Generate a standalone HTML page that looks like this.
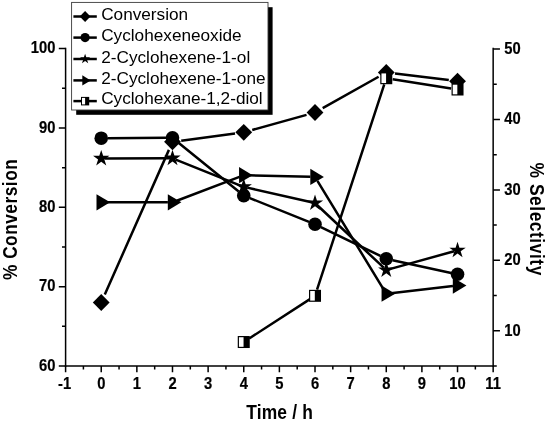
<!DOCTYPE html>
<html><head><meta charset="utf-8"><title>Chart</title>
<style>html,body{margin:0;padding:0;background:#fff}svg{display:block}</style>
</head><body>
<svg width="550" height="426" viewBox="0 0 550 426" style="display:block">
<rect width="550" height="426" fill="#fff"/>
<g stroke="#000" stroke-width="1.5" fill="none" stroke-linecap="butt">
<path d="M65.60 47.85V366.75"/>
<path d="M493.16 47.85V366.75"/>
<path d="M64.85 366.00H493.91"/>
<path d="M65.60 366.00h-6.8M65.60 326.32h-3.6M65.60 286.65h-6.8M65.60 246.97h-3.6M65.60 207.30h-6.8M65.60 167.63h-3.6M65.60 127.95h-6.8M65.60 88.27h-3.6M65.60 48.60h-6.8M493.16 366.00h3.6M493.16 330.78h6.8M493.16 295.56h3.6M493.16 260.33h6.8M493.16 225.11h3.6M493.16 189.89h6.8M493.16 154.67h3.6M493.16 119.44h6.8M493.16 84.22h3.6M493.16 49.00h6.8M65.60 366.00v6.2M83.41 366.00v3.4M101.23 366.00v6.2M119.05 366.00v3.4M136.86 366.00v6.2M154.68 366.00v3.4M172.49 366.00v6.2M190.31 366.00v3.4M208.12 366.00v6.2M225.94 366.00v3.4M243.75 366.00v6.2M261.56 366.00v3.4M279.38 366.00v6.2M297.20 366.00v3.4M315.01 366.00v6.2M332.83 366.00v3.4M350.64 366.00v6.2M368.46 366.00v3.4M386.27 366.00v6.2M404.09 366.00v3.4M421.90 366.00v6.2M439.72 366.00v3.4M457.53 366.00v6.2M475.35 366.00v3.4M493.16 366.00v6.2"/>
</g>
<g font-family="'Liberation Sans', Arial, sans-serif" font-weight="bold" font-size="16.5" fill="#000" stroke="#000" stroke-width="0.2">
<text transform="translate(55.4 370.60) scale(0.895 1)" text-anchor="end">60</text>
<text transform="translate(55.4 291.25) scale(0.895 1)" text-anchor="end">70</text>
<text transform="translate(55.4 211.90) scale(0.895 1)" text-anchor="end">80</text>
<text transform="translate(55.4 132.55) scale(0.895 1)" text-anchor="end">90</text>
<text transform="translate(55.4 53.20) scale(0.895 1)" text-anchor="end">100</text>
<text transform="translate(504.2 335.73) scale(0.895 1)" text-anchor="start">10</text>
<text transform="translate(504.2 265.20) scale(0.895 1)" text-anchor="start">20</text>
<text transform="translate(504.2 194.67) scale(0.895 1)" text-anchor="start">30</text>
<text transform="translate(504.2 124.13) scale(0.895 1)" text-anchor="start">40</text>
<text transform="translate(504.2 53.60) scale(0.895 1)" text-anchor="start">50</text>
<text transform="translate(64.60 388.7) scale(0.895 1)" text-anchor="middle">-1</text>
<text transform="translate(101.23 388.7) scale(0.895 1)" text-anchor="middle">0</text>
<text transform="translate(136.86 388.7) scale(0.895 1)" text-anchor="middle">1</text>
<text transform="translate(172.49 388.7) scale(0.895 1)" text-anchor="middle">2</text>
<text transform="translate(208.12 388.7) scale(0.895 1)" text-anchor="middle">3</text>
<text transform="translate(243.75 388.7) scale(0.895 1)" text-anchor="middle">4</text>
<text transform="translate(279.38 388.7) scale(0.895 1)" text-anchor="middle">5</text>
<text transform="translate(315.01 388.7) scale(0.895 1)" text-anchor="middle">6</text>
<text transform="translate(350.64 388.7) scale(0.895 1)" text-anchor="middle">7</text>
<text transform="translate(386.27 388.7) scale(0.895 1)" text-anchor="middle">8</text>
<text transform="translate(421.90 388.7) scale(0.895 1)" text-anchor="middle">9</text>
<text transform="translate(457.53 388.7) scale(0.895 1)" text-anchor="middle">10</text>
<text transform="translate(493.16 388.7) scale(0.895 1)" text-anchor="middle">11</text>
</g>
<g font-family="'Liberation Sans', Arial, sans-serif" font-weight="bold" fill="#000">
<text transform="translate(279.6 419.0) scale(0.88 1)" text-anchor="middle" font-size="19.8" letter-spacing="0.2">Time / h</text>
<text transform="translate(16.9 219.4) rotate(-90) scale(0.88 1)" text-anchor="middle" font-size="19.6" letter-spacing="0.6">% Conversion</text>
<text transform="translate(530.2 219.2) rotate(90) scale(0.88 1)" text-anchor="middle" font-size="19.8" letter-spacing="0.6">% Selectivity</text>
</g>
<g fill="#000">
<path d="M104.80 294.48L168.92 149.88M181.21 140.67L235.03 133.48M252.23 129.95L306.53 114.84M322.68 108.16L378.60 76.72M395.00 73.47L448.80 80.06" stroke="#000" stroke-width="2.5" fill="none"/>
<polygon points="101.23,294.12 109.63,302.52 101.23,310.92 92.83,302.52"/>
<polygon points="172.49,133.44 180.89,141.84 172.49,150.24 164.09,141.84"/>
<polygon points="243.75,123.91 252.15,132.31 243.75,140.71 235.35,132.31"/>
<polygon points="315.01,104.08 323.41,112.48 315.01,120.88 306.61,112.48"/>
<polygon points="386.27,64.01 394.67,72.41 386.27,80.81 377.87,72.41"/>
<polygon points="457.53,72.73 465.93,81.13 457.53,89.53 449.13,81.13"/>
</g>
<g fill="#000">
<path d="M107.73 138.15L165.99 137.86M177.54 141.92L238.70 191.57M249.78 198.08L308.98 221.81M320.86 227.06L380.42 255.95M392.62 260.17L451.18 272.92" stroke="#000" stroke-width="2.5" fill="none"/>
<circle cx="101.23" cy="138.18" r="6.8"/>
<circle cx="172.49" cy="137.82" r="6.8"/>
<circle cx="243.75" cy="195.66" r="6.8"/>
<circle cx="315.01" cy="224.23" r="6.8"/>
<circle cx="386.27" cy="258.79" r="6.8"/>
<circle cx="457.53" cy="274.31" r="6.8"/>
</g>
<g fill="#000">
<path d="M104.73 158.48L168.99 158.29M175.74 159.58L240.50 185.54M247.16 187.62L311.60 202.29M317.56 205.47L383.72 267.68M389.64 269.14L454.16 251.26" stroke="#000" stroke-width="2.5" fill="none"/>
<polygon points="101.23,149.89 103.16,155.83 109.41,155.83 104.35,159.51 106.28,165.45 101.23,161.78 96.18,165.45 98.11,159.51 93.05,155.83 99.30,155.83"/>
<polygon points="172.49,149.68 174.42,155.62 180.67,155.62 175.61,159.29 177.54,165.24 172.49,161.56 167.44,165.24 169.37,159.29 164.31,155.62 170.56,155.62"/>
<polygon points="243.75,178.25 245.68,184.19 251.93,184.19 246.87,187.86 248.80,193.80 243.75,190.13 238.70,193.80 240.63,187.86 235.57,184.19 241.82,184.19"/>
<polygon points="315.01,194.47 316.94,200.41 323.19,200.41 318.13,204.08 320.06,210.03 315.01,206.35 309.96,210.03 311.89,204.08 306.83,200.41 313.08,200.41"/>
<polygon points="386.27,261.47 388.20,267.42 394.45,267.42 389.39,271.09 391.32,277.03 386.27,273.36 381.22,277.03 383.15,271.09 378.09,267.42 384.34,267.42"/>
<polygon points="457.53,241.73 459.46,247.67 465.71,247.67 460.65,251.34 462.58,257.28 457.53,253.61 452.48,257.28 454.41,251.34 449.35,247.67 455.60,247.67"/>
</g>
<g fill="#000">
<path d="M105.83 202.36L167.89 202.36M176.79 200.72L239.45 176.85M248.35 175.32L310.41 176.86M317.41 180.90L383.87 289.78M390.84 293.18L452.96 286.11" stroke="#000" stroke-width="2.5" fill="none"/>
<polygon points="96.53,194.26 110.13,202.36 96.53,210.46"/>
<polygon points="167.79,194.26 181.39,202.36 167.79,210.46"/>
<polygon points="239.05,167.11 252.65,175.21 239.05,183.31"/>
<polygon points="310.31,168.87 323.91,176.97 310.31,185.07"/>
<polygon points="381.57,285.60 395.17,293.70 381.57,301.80"/>
<polygon points="452.83,277.49 466.43,285.59 452.83,293.69"/>
</g>
<g fill="#000">
<path d="M249.20 338.48L309.56 299.36M317.03 289.64L384.25 84.40M392.69 79.24L451.11 88.49" stroke="#000" stroke-width="2.5" fill="none"/>
<rect x="237.75" y="336.02" width="12.0" height="12.0" fill="#000"/><rect x="238.95" y="337.22" width="4.60" height="9.60" fill="#fff"/>
<rect x="309.01" y="289.82" width="12.0" height="12.0" fill="#000"/><rect x="310.21" y="291.02" width="4.60" height="9.60" fill="#fff"/>
<rect x="380.27" y="72.22" width="12.0" height="12.0" fill="#000"/><rect x="381.47" y="73.42" width="4.60" height="9.60" fill="#fff"/>
<rect x="451.53" y="83.51" width="12.0" height="12.0" fill="#000"/><rect x="452.73" y="84.71" width="4.60" height="9.60" fill="#fff"/>
</g>
<rect x="76.19999999999999" y="7.199999999999999" width="196.4" height="107.6" fill="#000"/>
<rect x="71.6" y="2.4" width="196.4" height="107.6" fill="#fff" stroke="#3a3a3a" stroke-width="0.9"/>
<g font-family="'Liberation Sans', Arial, sans-serif" font-size="17.2" fill="#000">
<path d="M73.39999999999999 16.5H96.8" stroke="#000" stroke-width="2.5"/>
<polygon points="85.10,11.10 90.50,16.50 85.10,21.90 79.70,16.50"/>
<text x="101.2" y="20.10">Conversion</text>
<path d="M73.39999999999999 37.6H96.8" stroke="#000" stroke-width="2.5"/>
<circle cx="85.10" cy="37.60" r="4.6"/>
<text x="101.2" y="41.20">Cyclohexeneoxide</text>
<path d="M73.39999999999999 59.0H96.8" stroke="#000" stroke-width="2.5"/>
<polygon points="85.10,53.70 86.29,57.36 90.14,57.36 87.03,59.63 88.22,63.29 85.10,61.02 81.98,63.29 83.17,59.63 80.06,57.36 83.91,57.36"/>
<text x="101.2" y="62.50">2-Cyclohexene-1-ol</text>
<path d="M73.39999999999999 80.4H96.8" stroke="#000" stroke-width="2.5"/>
<polygon points="82.30,75.30 90.70,80.40 82.30,85.50"/>
<text x="101.2" y="83.50">2-Cyclohexene-1-one</text>
<path d="M73.39999999999999 101.1H96.8" stroke="#000" stroke-width="2.5"/>
<rect x="81.00" y="96.90" width="8.2" height="8.5" fill="#000"/><rect x="82.00" y="97.90" width="3.1" height="6.5" fill="#fff"/>
<text x="101.2" y="104.40">Cyclohexane-1,2-diol</text>
</g>
</svg>
</body></html>
